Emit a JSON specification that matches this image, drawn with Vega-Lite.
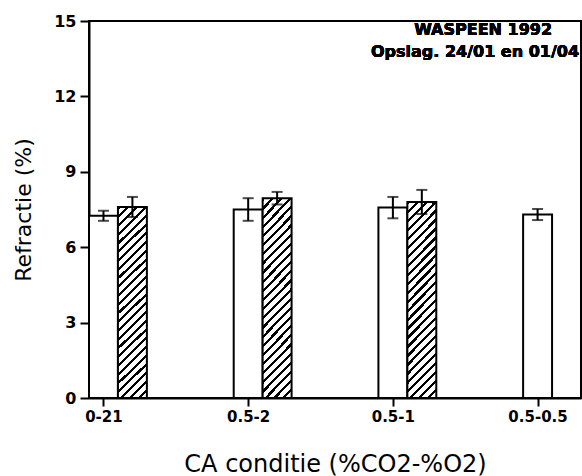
{
  "$schema": "https://vega.github.io/schema/vega-lite/v6.json",
  "width": 492,
  "height": 377,
  "autosize": {"type": "none"},
  "padding": {"left": 89, "top": 21, "right": 1, "bottom": 78},
  "background": "white",
  "config": {
    "view": {"stroke": "black", "strokeWidth": 2},
    "font": "DejaVu Sans"
  },
  "data": {
    "values": [
      {"cat": "0-21", "series": "24/01", "mean": 7.25, "lo": 7.05, "hi": 7.45},
      {"cat": "0-21", "series": "01/04", "mean": 7.6, "lo": 7.2, "hi": 8.0},
      {"cat": "0.5-2", "series": "24/01", "mean": 7.5, "lo": 7.05, "hi": 7.95},
      {"cat": "0.5-2", "series": "01/04", "mean": 7.95, "lo": 7.7, "hi": 8.2},
      {"cat": "0.5-1", "series": "24/01", "mean": 7.58, "lo": 7.15, "hi": 8.0},
      {"cat": "0.5-1", "series": "01/04", "mean": 7.8, "lo": 7.32, "hi": 8.28},
      {"cat": "0.5-0.5", "series": "24/01", "mean": 7.3, "lo": 7.08, "hi": 7.52}
    ]
  },
  "encoding": {
    "x": {
      "field": "cat", "type": "nominal", "sort": null,
      "scale": {"domain": ["0-21", "0.5-2", "0.5-1", "0.5-0.5"], "paddingInner": 0.6, "paddingOuter": 0},
      "axis": {
        "ticks": true,
        "tickExtra": false,
        "tickOffset": -14.5,
        "labelAngle": 0,
        "labelFont": "DejaVu Sans", "labelFontWeight": "bold", "labelFontSize": 15, "labelColor": "black",
        "labelPadding": 3,
        "tickSize": 8, "tickWidth": 2, "tickColor": "black",
        "domainColor": "black", "domainWidth": 2,
        "title": "CA conditie (%CO2-%O2)",
        "titleFont": "DejaVu Sans", "titleFontWeight": "normal", "titleFontSize": 24, "titleColor": "black",
        "titlePadding": 28
      }
    },
    "xOffset": {
      "field": "series", "type": "nominal",
      "scale": {"domain": ["24/01", "01/04"], "paddingInner": 0, "paddingOuter": 0}
    }
  },
  "layer": [
    {
      "transform": [{"filter": "datum.series === '24/01'"}],
      "mark": {"type": "bar", "fill": "white", "stroke": "black", "strokeWidth": 2},
      "encoding": {
        "y": {
          "field": "mean", "type": "quantitative",
          "scale": {"domain": [0, 15], "nice": false},
          "axis": {
            "values": [0, 3, 6, 9, 12, 15],
            "grid": false,
            "labelFont": "DejaVu Sans", "labelFontWeight": "bold", "labelFontSize": 16, "labelColor": "black",
            "labelPadding": 4,
            "tickSize": 9, "tickWidth": 2, "tickColor": "black",
            "domainColor": "black", "domainWidth": 2,
            "title": "Refractie (%)",
            "titleFont": "DejaVu Sans", "titleFontWeight": "normal", "titleFontSize": 22, "titleColor": "black",
            "titlePadding": 18
          }
        }
      }
    },
    {
      "transform": [{"filter": "datum.series === '01/04'"}],
      "mark": {
        "type": "bar", "stroke": "black", "strokeWidth": 2,
        "fill": {
          "gradient": "linear", "x1": 0, "y1": 0, "x2": 0.167, "y2": 1.12,
          "stops": [
            {"offset": 0.0, "color": "black"}, {"offset": 0.014, "color": "black"}, {"offset": 0.014, "color": "white"},
            {"offset": 0.04, "color": "white"}, {"offset": 0.04, "color": "black"}, {"offset": 0.054, "color": "black"}, {"offset": 0.054, "color": "white"},
            {"offset": 0.08, "color": "white"}, {"offset": 0.08, "color": "black"}, {"offset": 0.094, "color": "black"}, {"offset": 0.094, "color": "white"},
            {"offset": 0.12, "color": "white"}, {"offset": 0.12, "color": "black"}, {"offset": 0.134, "color": "black"}, {"offset": 0.134, "color": "white"},
            {"offset": 0.16, "color": "white"}, {"offset": 0.16, "color": "black"}, {"offset": 0.174, "color": "black"}, {"offset": 0.174, "color": "white"},
            {"offset": 0.2, "color": "white"}, {"offset": 0.2, "color": "black"}, {"offset": 0.214, "color": "black"}, {"offset": 0.214, "color": "white"},
            {"offset": 0.24, "color": "white"}, {"offset": 0.24, "color": "black"}, {"offset": 0.254, "color": "black"}, {"offset": 0.254, "color": "white"},
            {"offset": 0.28, "color": "white"}, {"offset": 0.28, "color": "black"}, {"offset": 0.294, "color": "black"}, {"offset": 0.294, "color": "white"},
            {"offset": 0.32, "color": "white"}, {"offset": 0.32, "color": "black"}, {"offset": 0.334, "color": "black"}, {"offset": 0.334, "color": "white"},
            {"offset": 0.36, "color": "white"}, {"offset": 0.36, "color": "black"}, {"offset": 0.374, "color": "black"}, {"offset": 0.374, "color": "white"},
            {"offset": 0.4, "color": "white"}, {"offset": 0.4, "color": "black"}, {"offset": 0.414, "color": "black"}, {"offset": 0.414, "color": "white"},
            {"offset": 0.44, "color": "white"}, {"offset": 0.44, "color": "black"}, {"offset": 0.454, "color": "black"}, {"offset": 0.454, "color": "white"},
            {"offset": 0.48, "color": "white"}, {"offset": 0.48, "color": "black"}, {"offset": 0.494, "color": "black"}, {"offset": 0.494, "color": "white"},
            {"offset": 0.52, "color": "white"}, {"offset": 0.52, "color": "black"}, {"offset": 0.534, "color": "black"}, {"offset": 0.534, "color": "white"},
            {"offset": 0.56, "color": "white"}, {"offset": 0.56, "color": "black"}, {"offset": 0.574, "color": "black"}, {"offset": 0.574, "color": "white"},
            {"offset": 0.6, "color": "white"}, {"offset": 0.6, "color": "black"}, {"offset": 0.614, "color": "black"}, {"offset": 0.614, "color": "white"},
            {"offset": 0.64, "color": "white"}, {"offset": 0.64, "color": "black"}, {"offset": 0.654, "color": "black"}, {"offset": 0.654, "color": "white"},
            {"offset": 0.68, "color": "white"}, {"offset": 0.68, "color": "black"}, {"offset": 0.694, "color": "black"}, {"offset": 0.694, "color": "white"},
            {"offset": 0.72, "color": "white"}, {"offset": 0.72, "color": "black"}, {"offset": 0.734, "color": "black"}, {"offset": 0.734, "color": "white"},
            {"offset": 0.76, "color": "white"}, {"offset": 0.76, "color": "black"}, {"offset": 0.774, "color": "black"}, {"offset": 0.774, "color": "white"},
            {"offset": 0.8, "color": "white"}, {"offset": 0.8, "color": "black"}, {"offset": 0.814, "color": "black"}, {"offset": 0.814, "color": "white"},
            {"offset": 0.84, "color": "white"}, {"offset": 0.84, "color": "black"}, {"offset": 0.854, "color": "black"}, {"offset": 0.854, "color": "white"},
            {"offset": 0.88, "color": "white"}, {"offset": 0.88, "color": "black"}, {"offset": 0.894, "color": "black"}, {"offset": 0.894, "color": "white"},
            {"offset": 0.92, "color": "white"}, {"offset": 0.92, "color": "black"}, {"offset": 0.934, "color": "black"}, {"offset": 0.934, "color": "white"},
            {"offset": 0.96, "color": "white"}, {"offset": 0.96, "color": "black"}, {"offset": 0.974, "color": "black"}, {"offset": 0.974, "color": "white"},
            {"offset": 1.0, "color": "white"}
          ]
        }
      },
      "encoding": {
        "y": {"field": "mean", "type": "quantitative"}
      }
    },
    {
      "mark": {"type": "rule", "color": "black", "strokeWidth": 2},
      "encoding": {
        "y": {"field": "lo", "type": "quantitative"},
        "y2": {"field": "hi"}
      }
    },
    {
      "mark": {"type": "tick", "color": "black", "size": 11, "thickness": 2},
      "encoding": {
        "y": {"field": "lo", "type": "quantitative"}
      }
    },
    {
      "mark": {"type": "tick", "color": "black", "size": 11, "thickness": 2},
      "encoding": {
        "y": {"field": "hi", "type": "quantitative"}
      }
    },
    {
      "mark": {"type": "text", "text": "WASPEEN 1992", "align": "right", "baseline": "middle", "font": "DejaVu Sans", "fontWeight": "bold", "fontSize": 16, "fill": "black", "stroke": null},
      "encoding": {
        "x": {"datum": "0.5-0.5", "type": "nominal"},
        "xOffset": null,
        "y": {"datum": 14.64, "type": "quantitative"}
      }
    },
    {
      "mark": {"type": "text", "text": "Opslag. 24/01 en 01/04", "align": "right", "baseline": "middle", "font": "DejaVu Sans", "fontWeight": "bold", "fontSize": 16, "fill": "black", "stroke": null, "dx": 27},
      "encoding": {
        "x": {"datum": "0.5-0.5", "type": "nominal"},
        "xOffset": null,
        "y": {"datum": 13.77, "type": "quantitative"}
      }
    }
  ]
}
